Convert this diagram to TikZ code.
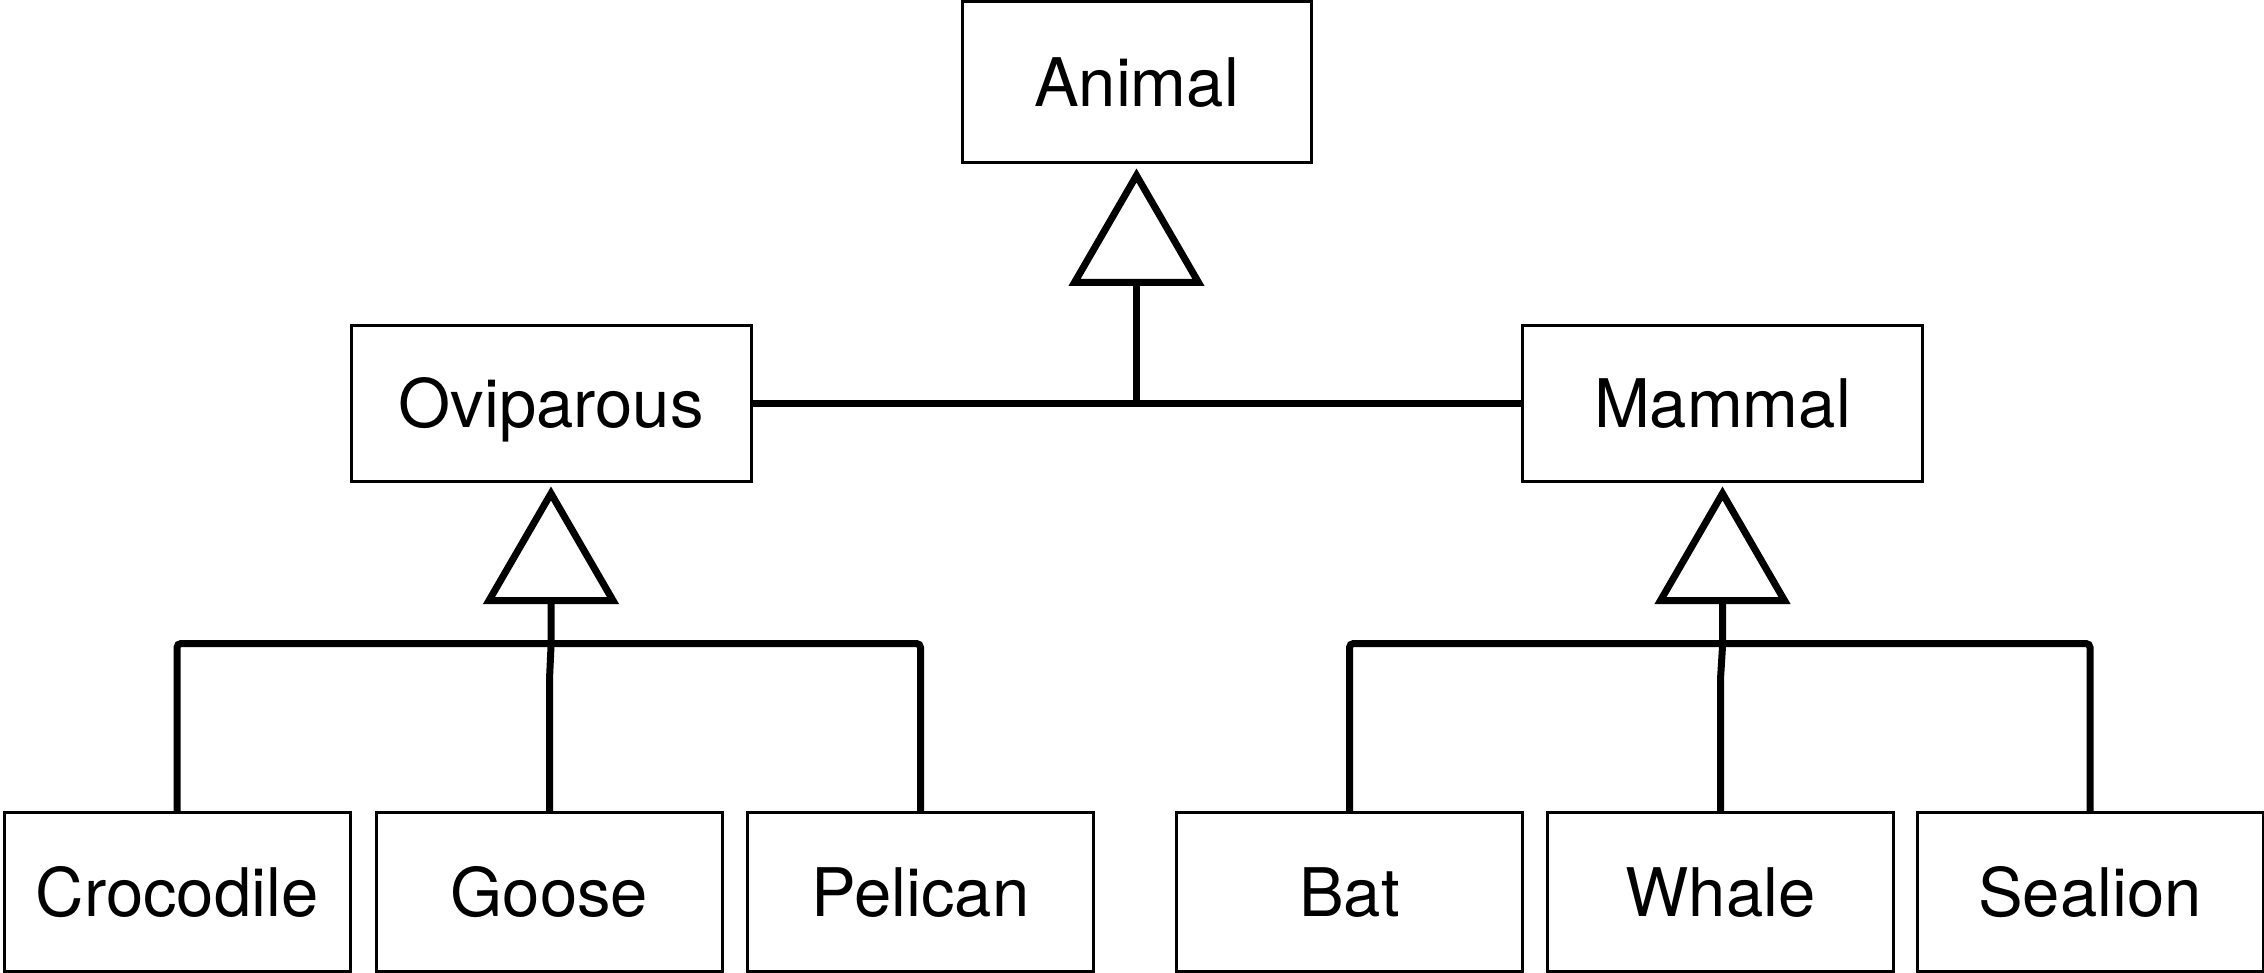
\documentclass[tikz,border=0pt]{standalone}
\usepackage{fontspec}
\setmainfont{TeX Gyre Heros}
\usetikzlibrary{calc}
\begin{document}
\begin{tikzpicture}[x=0.5pt,y=-0.5pt,
  box/.style={draw,line width=1.5pt,inner sep=0pt,font=\fontsize{33.5}{40}\selectfont,text height=24pt,text depth=0pt},
  leaf/.style={box,minimum width=173pt,minimum height=79.5pt},
  mid/.style={box,minimum width=200pt,minimum height=78pt},
  conn/.style={line width=3.5pt},
  tri/.style={line width=3.5pt,line join=miter}]
\useasboundingbox (0,0) rectangle (2264,973);

\node[box,minimum width=174.5pt,minimum height=80.5pt] (animal) at (1136.5,82.5) {Animal};
\node[mid] (ovi) at (551,403) {Oviparous};
\node[mid] (mam) at (1722.5,403) {Mammal};

\node[leaf] (croc)  at (177,892)    {Crocodile};
\node[leaf] (goose) at (549.5,892)  {Goose};
\node[leaf] (pel)   at (920.5,892)  {Pelican};
\node[leaf] (bat)   at (1349.5,892) {Bat};
\node[leaf] (whale) at (1720.5,892) {Whale};
\node[leaf] (seal)  at (2090,892)   {Sealion};

% Animal generalization
\coordinate (aTip) at ($(animal.south)+(0,11)$);
\coordinate (aBase) at ($(aTip)+(0,107)$);
\draw[tri] (aTip) -- ++(62,107) -- ++(-124,0) -- cycle;
\draw[conn] (aBase) -- (aBase |- ovi.east);
\draw[conn] (ovi.east) -- (mam.west);

% Oviparous generalization
\coordinate (oTip) at ($(ovi.south)+(0,11)$);
\coordinate (oBase) at ($(oTip)+(0,107)$);
\draw[tri] (oTip) -- ++(62,107) -- ++(-124,0) -- cycle;
\draw[conn] (oBase) -- ++(0,46) -- ($(goose.north)+(0,-132)$) -- (goose.north);
\draw[conn,rounded corners=2pt] (croc.north) -- ++(0,-167.5) -| (pel.north);

% Mammal generalization
\coordinate (mTip) at ($(mam.south)+(0,11)$);
\coordinate (mBase) at ($(mTip)+(0,107)$);
\draw[tri] (mTip) -- ++(62,107) -- ++(-124,0) -- cycle;
\draw[conn] (mBase) -- ++(0,46) -- ($(whale.north)+(0,-132)$) -- (whale.north);
\draw[conn,rounded corners=2pt] (bat.north) -- ++(0,-167.5) -| (seal.north);
\end{tikzpicture}
\end{document}
